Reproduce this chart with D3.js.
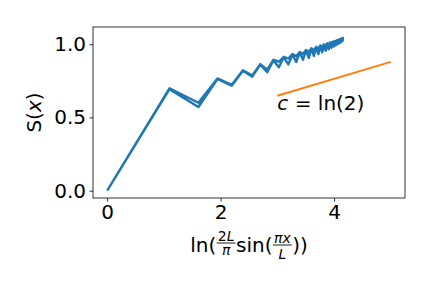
<!DOCTYPE html>
<html>
<head>
<meta charset="utf-8">
<script src="https://cdn.jsdelivr.net/npm/d3@7"></script>
<style>
  body { margin: 0; background: #fff; }
  text { font-family: "DejaVu Sans", sans-serif; fill: #000; }
</style>
</head>
<body>
<script>
const WIDTH = 432;
const HEIGHT = 288;
const LEFT = 93, RIGHT = 405, TOP = 27, BOTTOM = 198;

// x position of each bond, left half of the chain (bond 0.5 .. 49.5)
const chord = [0.000, 1.098, 1.608, 1.944, 2.194, 2.393, 2.558, 2.699, 2.821, 2.930,
               3.026, 3.114, 3.193, 3.266, 3.333, 3.394, 3.451, 3.505, 3.554, 3.600,
               3.644, 3.684, 3.722, 3.758, 3.791, 3.822, 3.852, 3.880, 3.906, 3.930,
               3.953, 3.974, 3.994, 4.013, 4.030, 4.046, 4.061, 4.074, 4.087, 4.098,
               4.108, 4.118, 4.126, 4.133, 4.139, 4.144, 4.148, 4.151, 4.153, 4.154];
// entropy going out from the left end
const sOut = [0.000, 0.693, 0.571, 0.762, 0.716, 0.818, 0.778, 0.860, 0.808, 0.889,
              0.842, 0.910, 0.862, 0.928, 0.878, 0.943, 0.893, 0.956, 0.906, 0.968,
              0.920, 0.978, 0.932, 0.987, 0.944, 0.995, 0.955, 1.002, 0.965, 1.008,
              0.975, 1.013, 0.984, 1.018, 0.992, 1.022, 0.999, 1.026, 1.005, 1.029,
              1.010, 1.032, 1.015, 1.034, 1.019, 1.036, 1.022, 1.038, 1.025, 1.039];
// entropy of the mirrored bonds (right half), same order as chord
const sBack = [0.000, 0.699, 0.600, 0.766, 0.722, 0.822, 0.786, 0.864, 0.826, 0.893,
               0.880, 0.914, 0.902, 0.932, 0.918, 0.947, 0.933, 0.960, 0.946, 0.972,
               0.958, 0.982, 0.969, 0.991, 0.979, 0.999, 0.988, 1.006, 0.996, 1.012,
               1.003, 1.017, 1.009, 1.022, 1.014, 1.026, 1.019, 1.030, 1.024, 1.033,
               1.028, 1.036, 1.031, 1.038, 1.034, 1.040, 1.037, 1.042, 1.039, 1.043];
// c = ln(2) reference slope
const fitX = [3, 5];
const fitY = [0.648, 0.879];
const xTicks = [0, 2, 4];
const yTicks = [0.0, 0.5, 1.0];

const svg = d3.select("body").append("svg")
    .attr("width", WIDTH)
    .attr("height", HEIGHT);

svg.append("rect")
    .attr("width", WIDTH)
    .attr("height", HEIGHT)
    .attr("fill", "#fff");

const x = d3.scaleLinear().domain([-0.25, 5.25]).range([LEFT, RIGHT]);
const y = d3.scaleLinear().domain([-0.05, 1.117]).range([BOTTOM, TOP]);

const line = d3.line().x(d => x(d[0])).y(d => y(d[1]));

// out and back along the chain
const outPts = chord.map((c, i) => [c, sOut[i]]);
const backPts = chord.map((c, i) => [c, sBack[i]]).reverse();

svg.append("path")
    .attr("d", line(outPts.concat(backPts)))
    .attr("fill", "none")
    .attr("stroke", "#1f77b4")
    .attr("stroke-width", 2.4)
    .attr("stroke-linejoin", "round");

svg.append("path")
    .attr("d", line(fitX.map((v, i) => [v, fitY[i]])))
    .attr("fill", "none")
    .attr("stroke", "#ff7f0e")
    .attr("stroke-width", 2);

// annotation
const ann = svg.append("text")
    .attr("x", x(3))
    .attr("y", y(0.55))
    .attr("font-size", 20);
ann.append("tspan").attr("font-style", "italic").text("c");
ann.append("tspan").text(" = ln(2)");

// axes
const xAxis = svg.append("g")
    .attr("transform", `translate(0,${BOTTOM})`)
    .call(d3.axisBottom(x).tickValues(xTicks).tickFormat(d3.format("d"))
        .tickSize(3.5).tickPadding(3.5));
const yAxis = svg.append("g")
    .attr("transform", `translate(${LEFT},0)`)
    .call(d3.axisLeft(y).tickValues(yTicks).tickFormat(d3.format(".1f"))
        .tickSize(3.5).tickPadding(3.5));

[xAxis, yAxis].forEach(g => {
    g.select(".domain").remove();
    g.selectAll(".tick line").attr("stroke", "#000").attr("stroke-width", 0.8);
    g.selectAll(".tick text")
        .attr("font-size", 20)
        .attr("font-family", "DejaVu Sans")
        .attr("fill", "#000");
});

svg.append("rect")
    .attr("x", LEFT)
    .attr("y", TOP)
    .attr("width", RIGHT - LEFT)
    .attr("height", BOTTOM - TOP)
    .attr("fill", "none")
    .attr("stroke", "#000")
    .attr("stroke-width", 0.8);

// y label
const yl = svg.append("text")
    .attr("transform", `translate(41,${(TOP + BOTTOM) / 2}) rotate(-90)`)
    .attr("text-anchor", "middle")
    .attr("font-size", 20);
yl.append("tspan").text("S(");
yl.append("tspan").attr("font-style", "italic").text("x");
yl.append("tspan").text(")");

// x label: ln(2L/π sin(πx/L)) built from pieces
const xl = svg.append("g");
let cx = 0;

function put(parts, px, baseline, size) {
    const t = xl.append("text")
        .attr("x", px)
        .attr("y", baseline)
        .attr("font-size", size);
    parts.forEach(p => {
        t.append("tspan").attr("font-style", p[1] ? "italic" : "normal").text(p[0]);
    });
    return t;
}

function word(str) {
    const t = put([[str, false]], cx, 252, 20);
    cx += t.node().getComputedTextLength();
}

function frac(num, den, bar, numBase, denBase) {
    const tn = put(num, 0, numBase, 14);
    const td = put(den, 0, denBase, 14);
    const wn = tn.node().getComputedTextLength();
    const wd = td.node().getComputedTextLength();
    const w = Math.max(wn, wd) + 3;
    tn.attr("x", cx + (w - wn) / 2);
    td.attr("x", cx + (w - wd) / 2);
    xl.append("line")
        .attr("x1", cx + 0.5).attr("x2", cx + w - 0.5)
        .attr("y1", bar).attr("y2", bar)
        .attr("stroke", "#000").attr("stroke-width", 0.9);
    cx += w;
}

word("ln(");
frac([["2", false], ["L", true]], [["π", true]], 243, 240.5, 254.5);
word("sin(");
frac([["πx", true]], [["L", true]], 245, 242.5, 258.5);
word("))");

xl.attr("transform", `translate(${(LEFT + RIGHT) / 2 - cx / 2},0)`);
</script>
</body>
</html>
